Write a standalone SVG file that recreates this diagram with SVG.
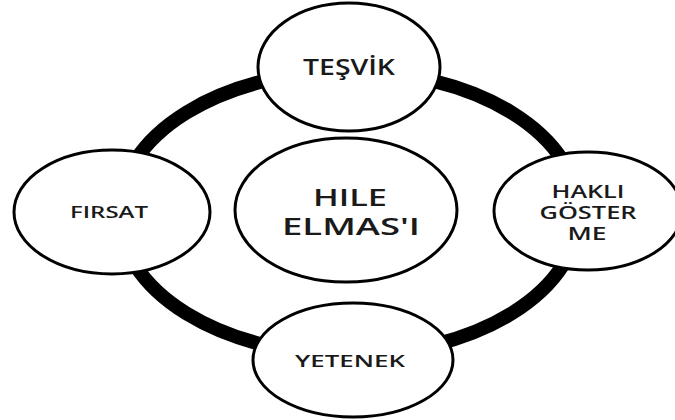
<svg xmlns="http://www.w3.org/2000/svg" width="675" height="420" viewBox="0 0 675 420">
<style>
.node{fill:#ffffff;stroke:#000000;stroke-width:3}
.lbl{font-family:"Open Sans","Liberation Sans",sans-serif;font-weight:600;fill:#1a1a1a;text-anchor:middle}
.ring{fill:none;stroke:#000000;stroke-width:14}
</style>
<rect width="675" height="420" fill="#ffffff"/>
<g id="connectors">
<ellipse class="ring" cx="349" cy="213" rx="230" ry="142"/>
</g>
<g id="node-tesvik">
<ellipse class="node" cx="349" cy="67" rx="91" ry="64"/>
<text class="lbl" x="349" y="75" font-size="21" textLength="92" lengthAdjust="spacingAndGlyphs">TEŞVİK</text>
</g>
<g id="node-firsat">
<ellipse class="node" cx="112" cy="212" rx="98" ry="62"/>
<text class="lbl" x="109" y="218" font-size="17" textLength="78" lengthAdjust="spacingAndGlyphs">FIRSAT</text>
</g>
<g id="node-hile">
<ellipse class="node" cx="346" cy="210" rx="111" ry="72"/>
<text class="lbl" x="350" y="206" font-size="24" textLength="74" lengthAdjust="spacingAndGlyphs">HILE</text>
<text class="lbl" x="351" y="235" font-size="24" textLength="138" lengthAdjust="spacingAndGlyphs">ELMAS'I</text>
</g>
<g id="node-hakli">
<ellipse class="node" cx="588" cy="211" rx="94" ry="59"/>
<text class="lbl" x="588" y="198" font-size="17.5" textLength="73" lengthAdjust="spacingAndGlyphs">HAKLI</text>
<text class="lbl" x="588" y="219" font-size="17.5" textLength="97" lengthAdjust="spacingAndGlyphs">GÖSTER</text>
<text class="lbl" x="587" y="240" font-size="17.5" textLength="39" lengthAdjust="spacingAndGlyphs">ME</text>
</g>
<g id="node-yetenek">
<ellipse class="node" cx="353" cy="360" rx="100" ry="57"/>
<text class="lbl" x="350" y="367" font-size="17" textLength="110" lengthAdjust="spacingAndGlyphs">YETENEK</text>
</g>
</svg>
